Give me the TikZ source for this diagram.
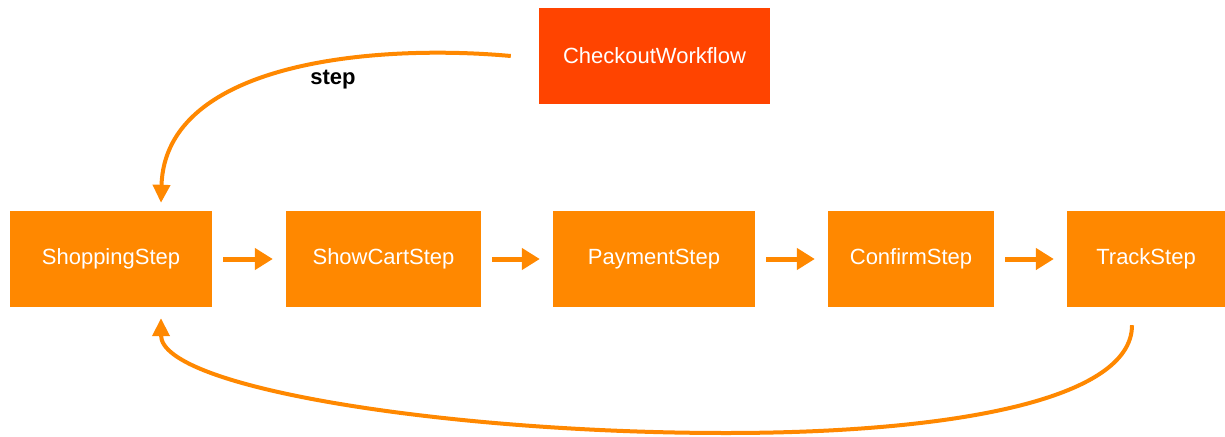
\documentclass[tikz,border=0pt]{standalone}
\usepackage{fontspec}
\setmainfont{Liberation Sans}
\usetikzlibrary{arrows.meta}
\definecolor{boxorange}{HTML}{FF8800}
\definecolor{boxred}{HTML}{FF4400}
\tikzset{
  stepbox/.style={rectangle, fill=boxorange, text=white, minimum height=96pt, inner sep=0pt, font=\fontsize{22}{26}\selectfont},
  wfbox/.style={rectangle, fill=boxred, text=white, minimum height=96pt, minimum width=231pt, inner sep=0pt, font=\fontsize{22}{26}\selectfont},
  flowarrow/.style={draw=boxorange, line width=5pt, -{Triangle[length=18pt,width=21pt]}, shorten <=11pt, shorten >=13pt},
  curvearrow/.style={draw=boxorange, line width=4pt, -{Triangle[length=18pt,width=17pt]}},
  lbl/.style={font=\fontsize{22}{26}\selectfont\bfseries, text=black}
}
\begin{document}
\begin{tikzpicture}[x=1pt,y=-1pt]
\useasboundingbox (0,0) rectangle (1225,436);
\fill[white] (0,0) rectangle (1225,436);
\node[wfbox] (wf) at (654.5,56) {CheckoutWorkflow};
\node[stepbox, minimum width=202pt] (shop) at (111,259) {ShoppingStep};
\node[stepbox, minimum width=195pt] (cart) at (383.5,259) {ShowCartStep};
\node[stepbox, minimum width=202pt] (pay) at (654,259) {PaymentStep};
\node[stepbox, minimum width=166pt] (conf) at (911,259) {ConfirmStep};
\node[stepbox, minimum width=158pt] (track) at (1146,259) {TrackStep};
\draw[flowarrow] (shop) -- (cart);
\draw[flowarrow] (cart) -- (pay);
\draw[flowarrow] (pay) -- (conf);
\draw[flowarrow] (conf) -- (track);
\draw[curvearrow] ([xshift=-28pt]wf.west) .. controls (380,44) and (165,60) .. ([xshift=50pt,yshift=8pt]shop.north);
\node[lbl] (steplbl) at (333,80) {step};
\coordinate (low) at (726,433);
\draw[curvearrow] ([xshift=-14pt,yshift=-18pt]track.south) .. controls +(0,75) and +(224,0) .. (low) .. controls +(-276,0) and +(0,70) .. ([xshift=50pt,yshift=-11pt]shop.south);
\end{tikzpicture}
\end{document}
